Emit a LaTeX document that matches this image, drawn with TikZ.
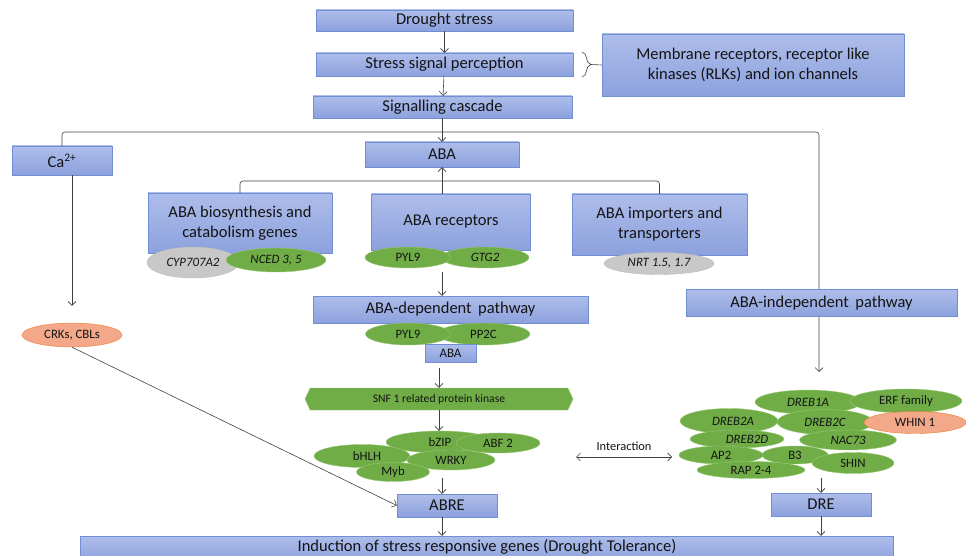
\documentclass[tikz,border=0pt]{standalone}
\usepackage{fontspec}
\setmainfont{Carlito}
\usepackage{tikz}
\usetikzlibrary{shapes.geometric,shapes.symbols,arrows.meta,decorations.pathreplacing}

\definecolor{boxtop}{RGB}{174,189,234}
\definecolor{boxbot}{RGB}{140,161,221}
\definecolor{boxline}{RGB}{112,142,212}
\definecolor{leaf}{RGB}{112,173,71}
\definecolor{leafline}{RGB}{150,200,115}
\definecolor{greyfill}{RGB}{200,200,200}
\definecolor{greyline}{RGB}{185,185,185}
\definecolor{salmon}{RGB}{244,168,138}
\definecolor{salmonline}{RGB}{237,125,49}
\definecolor{ink}{RGB}{64,64,64}
\definecolor{txt}{RGB}{20,20,20}

\begin{document}
\begin{tikzpicture}[x=1pt,y=1pt,
  >={Straight Barb[length=4pt,width=8pt]},
  every node/.style={inner sep=0pt,text=txt},
  box/.style={draw=boxline,top color=boxtop,bottom color=boxbot,align=center,
    font=\fontsize{16.5}{20}\selectfont},
  blob/.style={ellipse,fill=leaf,draw=leafline,line width=0.4pt,
    font=\fontsize{12.8}{14}\selectfont},
  greyblob/.style={blob,fill=greyfill,draw=greyline},
  redblob/.style={blob,fill=salmon,draw=salmonline},
  link/.style={draw=ink,line width=0.6pt}]
\useasboundingbox (0,0) rectangle (966,-556);
% top of the cascade
\node [box,minimum width=257,minimum height=21] (drought) at (444.5,-20.5) {Drought stress};
\node [box,minimum width=257,minimum height=23] (perception) at (444.5,-64.5) {Stress signal perception};
\node [box,minimum width=259,minimum height=22] (cascade) at (442.5,-107) {Signalling cascade};
\node [box,minimum width=302,minimum height=62] (membrane) at (753,-65) {Membrane receptors, receptor like\\kinases (RLKs) and ion channels};
\draw [link,->] (drought) -- (perception);
\draw [link,->] (perception) -- (cascade);
\coordinate (bracetop) at (582,-52);
\coordinate (bracebot) at (582,-77);
\coordinate (bracetip) at (591,-64.5);
\draw [link,decorate,decoration={brace,amplitude=9pt}] (bracetop) -- (bracebot);
\draw [link] (bracetip) -- (membrane.west);
% three branches
\node [box,minimum width=100,minimum height=29] (ca) at (62,-160.5) {Ca\textsuperscript{2+}};
\node [box,minimum width=154,minimum height=25] (aba) at (442,-154.5) {ABA};
\coordinate (split) at (442,-132);
\coordinate (independ) at (819,-372);
\draw [link] (cascade.south -| split) -- (split);
\draw [link,->] (split) -- (aba);
\draw [link,->,rounded corners=3pt] (ca.north) |- (split) -| (independ);
\node [box,minimum width=271,minimum height=27] (indep) at (821.5,-303) {ABA-independent\, pathway};
% ABA boxes
\node [box,minimum width=184,minimum height=60] (biosyn) at (240,-223) {ABA biosynthesis and\\catabolism genes};
\node [box,minimum width=159,minimum height=56] (receptors) at (451,-222) {ABA receptors};
\node [box,minimum width=175,minimum height=61] (importers) at (659.5,-224.5) {ABA importers and\\transporters};
\coordinate (abasplit) at (442,-181);
\draw [link,->] (receptors.north -| aba.south) -- (aba.south);
\draw [link,rounded corners=3pt] (biosyn.north) |- (abasplit) -| (importers.north);
\node [greyblob,minimum width=92,minimum height=31] (cyp) at (193,-262.5) {\itshape CYP707A2};
\node [blob,minimum width=100,minimum height=24] (nced) at (276,-260) {\itshape NCED 3, 5};
\node [blob,minimum width=88,minimum height=21] (gtg) at (485,-257.5) {\itshape GTG2};
\node [blob,minimum width=86,minimum height=21] (pyla) at (408,-257.5) {PYL9};
\node [greyblob,minimum width=110,minimum height=22] (nrt) at (659,-263.5) {\itshape NRT 1.5, 1.7};
% ABA-dependent side
\node [box,minimum width=275,minimum height=27] (depend) at (450.5,-309.5) {ABA-dependent\, pathway};
\node [blob,minimum width=93,minimum height=22] (pp2c) at (483.5,-334) {PP2C};
\node [blob,minimum width=85,minimum height=22] (pylb) at (408,-334) {PYL9};
\node [box,minimum width=51,minimum height=18,font=\fontsize{13}{14}\selectfont] (abasmall) at (450.5,-353) {ABA};
\coordinate (recout) at (442,-272);
\draw [link,->] (recout) -- (recout |- depend.north);
\node [signal,signal to=west and east,signal pointer angle=130,fill=leaf,draw=leafline,
  minimum width=268,minimum height=22,font=\fontsize{11.6}{13}\selectfont] (snf) at (439,-399) {SNF 1 related protein kinase};
\draw [link,->,shorten <=6pt] (abasmall.south -| snf.north) -- (snf.north);
\node [blob,minimum width=108,minimum height=22] (bzip) at (440,-442) {bZIP};
\node [blob,minimum width=84,minimum height=20] (abf) at (498,-443) {ABF 2};
\node [blob,minimum width=96,minimum height=23] (bhlh) at (362,-456) {\hspace{10pt}bHLH};
\node [blob,minimum width=88,minimum height=20] (wrky) at (451,-460) {WRKY};
\node [blob,minimum width=73,minimum height=19] (myb) at (393,-472) {Myb};
\draw [link,->] (snf.south) -- (snf.south |- bzip.north);
\node [box,minimum width=100,minimum height=23] (abre) at (447,-505.5) {ABRE};
\coordinate (clusterout) at (442,-478);
\draw [link,->] (clusterout) -- (clusterout |- abre.north);
% calcium side
\node [redblob,minimum width=100,minimum height=24] (crks) at (72,-335) {CRKs, CBLs};
\draw [link,->,shorten >=17pt] (ca.south -| crks) -- (crks.north);
\draw [link,->] (crks.south) -- (abre.west);
% ABA-independent side
\node [blob,minimum width=106,minimum height=24] (dreba) at (808,-402) {\itshape DREB1A};
\node [blob,minimum width=112,minimum height=24] (erf) at (906,-401) {ERF family};
\node [blob,minimum width=98,minimum height=25] (drebb) at (729,-421) {\itshape\hspace{8pt}DREB2A};
\node [blob,minimum width=96,minimum height=25] (drebc) at (825,-422) {\itshape DREB2C};
\node [blob,minimum width=94,minimum height=18] (drebd) at (737,-439) {\itshape\hspace{20pt}DREB2D};
\node [blob,minimum width=97,minimum height=20] (nac) at (848,-440) {\itshape NAC73};
\node [redblob,minimum width=102,minimum height=22] (whin) at (915,-422.5) {WHIN 1};
\node [blob,minimum width=84,minimum height=18] (ap) at (721,-455) {AP2};
\node [blob,minimum width=66,minimum height=18] (bthree) at (795,-455) {B3};
\node [blob,minimum width=82,minimum height=21] (shin) at (853,-463) {SHIN};
\node [blob,minimum width=108,minimum height=17] (rap) at (751,-470) {RAP 2-4};
\node [box,minimum width=100,minimum height=23] (dre) at (821,-504.5) {DRE};
\coordinate (dreout) at (821,-478);
\draw [link,->] (dreout) -- (dreout |- dre.north);
% interaction
\coordinate (intleft) at (576,-457);
\coordinate (intright) at (672,-457);
\draw [link,<->] (intleft) -- node [above=6pt,font=\fontsize{12.4}{14}\selectfont] (interact) {Interaction} (intright);
% bottom
\node [box,minimum width=813,minimum height=26] (induction) at (487,-549) {};
\node [font=\fontsize{16.5}{20}\selectfont] (inductiontext) at (487,-547) {Induction of stress responsive genes (Drought Tolerance)};
\draw [link,->] (abre.south -| clusterout) -- (clusterout |- induction.north);
\draw [link,->] (dre) -- (dre |- induction.north);
\end{tikzpicture}
\end{document}
